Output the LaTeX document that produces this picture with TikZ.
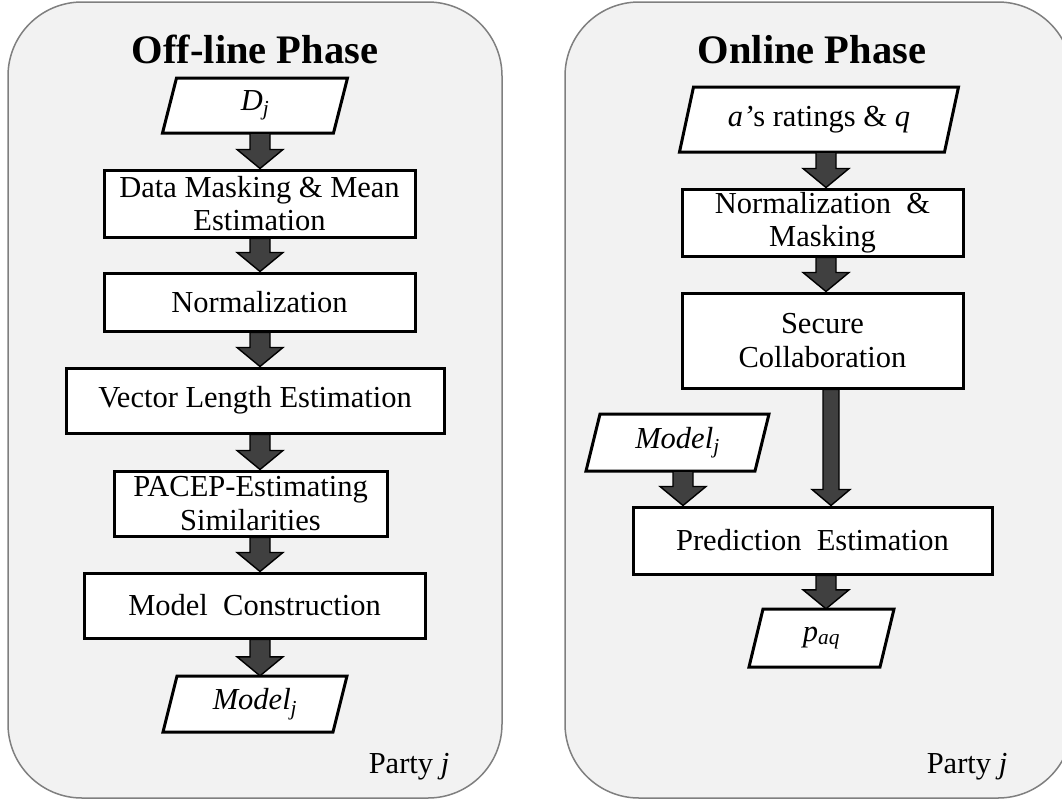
\documentclass[tikz,border=0pt]{standalone}
\usepackage{fontspec}
\setmainfont{Liberation Serif}
\usetikzlibrary{calc}
\definecolor{panelfill}{HTML}{F2F2F2}
\definecolor{panelline}{HTML}{7F7F7F}
\definecolor{arrfill}{HTML}{404040}
\tikzset{
  panel/.style={draw=panelline, fill=panelfill, line width=1.5pt, rounded corners=74pt},
  procbox/.style={draw=black, fill=white, line width=3pt, inner sep=0pt, align=center,
    font=\fontsize{30.5}{33.5}\selectfont},
  paradraw/.style={draw=black, fill=white, line width=3pt, line join=miter},
  paratext/.style={inner sep=0pt, align=center, font=\fontsize{30.5}{33.5}\selectfont},
  titletext/.style={inner sep=0pt, font=\fontsize{40.5}{44}\selectfont\bfseries},
  partytext/.style={inner sep=0pt, font=\fontsize{30.5}{33.5}\selectfont},
  blk/.style={draw=black, fill=arrfill, line width=1.4pt, line join=miter}
}
\def\sw{10pt}\def\hw{23pt}\def\hl{19pt}
% block arrow: [options]{from node}{to node}{x centre in px}
\newcommand\blockarr[4][]{%
  \draw[blk,#1] let \p1=(#2.south), \p2=(#3.north) in
    ({#4pt-\sw},\y1) -- ({#4pt+\sw},\y1) -- ({#4pt+\sw},{\y2+\hl}) --
    ({#4pt+\hw},{\y2+\hl}) -- (#4pt,\y2) -- ({#4pt-\hw},{\y2+\hl}) --
    ({#4pt-\sw},{\y2+\hl}) -- cycle;}
% parallelogram: {name}{cx}{cy}{w}{h}{text}
\newcommand\para[6]{%
  \draw[paradraw] ({#2-#4/2-7},{#3+#5/2}) -- ({#2+#4/2-7},{#3+#5/2}) --
    ({#2+#4/2+7},{#3-#5/2}) -- ({#2-#4/2+7},{#3-#5/2}) -- cycle;
  \node[paratext, minimum width=#4pt, minimum height=#5pt] (#1) at (#2,#3) {#6};}
\begin{document}
\begin{tikzpicture}[x=1pt,y=-1pt]
\useasboundingbox (0,0) rectangle (1062,803);
\clip (0,0) rectangle (1062,803);
% panels
\draw[panel] (8,2) rectangle (502,798);
\draw[panel] (565,2) rectangle (1072,798);
% titles
\node[titletext, anchor=base] (t1) at (255,63) {Off-line Phase};
\node[titletext, anchor=base] (t2) at (812,63) {Online Phase};
% offline column
\para{dj}{255}{105.5}{171}{55}{\textit{D\textsubscript{j}}}
\node[procbox, minimum width=311pt, minimum height=67pt] (b1) at (259.5,203.5) {Data Masking \& Mean\\Estimation};
\node[procbox, minimum width=311pt, minimum height=58pt] (b2) at (259.5,302) {Normalization};
\node[procbox, minimum width=378pt, minimum height=65pt] (b3) at (255,400.5) {Vector Length Estimation};
\node[procbox, minimum width=273pt, minimum height=65pt] (b4) at (250.5,503.5) {PACEP-Estimating\\Similarities};
\node[procbox, minimum width=341pt, minimum height=65pt] (b5) at (254.5,605.5) {Model\ \ Construction};
\para{mj}{255}{704}{170}{56}{\textit{Model\textsubscript{j}}}
\node[partytext, anchor=base] (pl) at (409,773) {Party \textit{j}};
% online column
\para{ar}{819}{119.5}{265}{65}{\textit{a’}s ratings \& \textit{q}}
\node[procbox, minimum width=281pt, minimum height=67pt] (r1) at (822.5,222.5) {Normalization \ \&\\Masking};
\node[procbox, minimum width=281pt, minimum height=95pt] (r2) at (822.5,340.5) {Secure\\Collaboration};
\para{mr}{677.5}{442.5}{169}{57}{\textit{Model\textsubscript{j}}}
\node[procbox, minimum width=359pt, minimum height=67pt] (r3) at (812.5,540.5) {Prediction\ \ Estimation};
\para{pa}{821.5}{638}{131}{58}{\textit{p\textsubscript{aq}}}
\node[partytext, anchor=base] (pr) at (967,773) {Party \textit{j}};
% arrows offline
\blockarr{dj}{b1}{260}
\blockarr{b1}{b2}{260}
\blockarr{b2}{b3}{260}
\blockarr{b3}{b4}{260}
\blockarr{b4}{b5}{260}
\blockarr{b5}{mj}{260}
% arrows online
\blockarr{ar}{r1}{826}
\blockarr{r1}{r2}{826}
{\def\sw{8pt}\def\hw{19pt}\def\hl{16pt}\blockarr{r2}{r3}{831}}
\blockarr{mr}{r3}{683}
\blockarr{r3}{pa}{826}
\end{tikzpicture}
\end{document}
